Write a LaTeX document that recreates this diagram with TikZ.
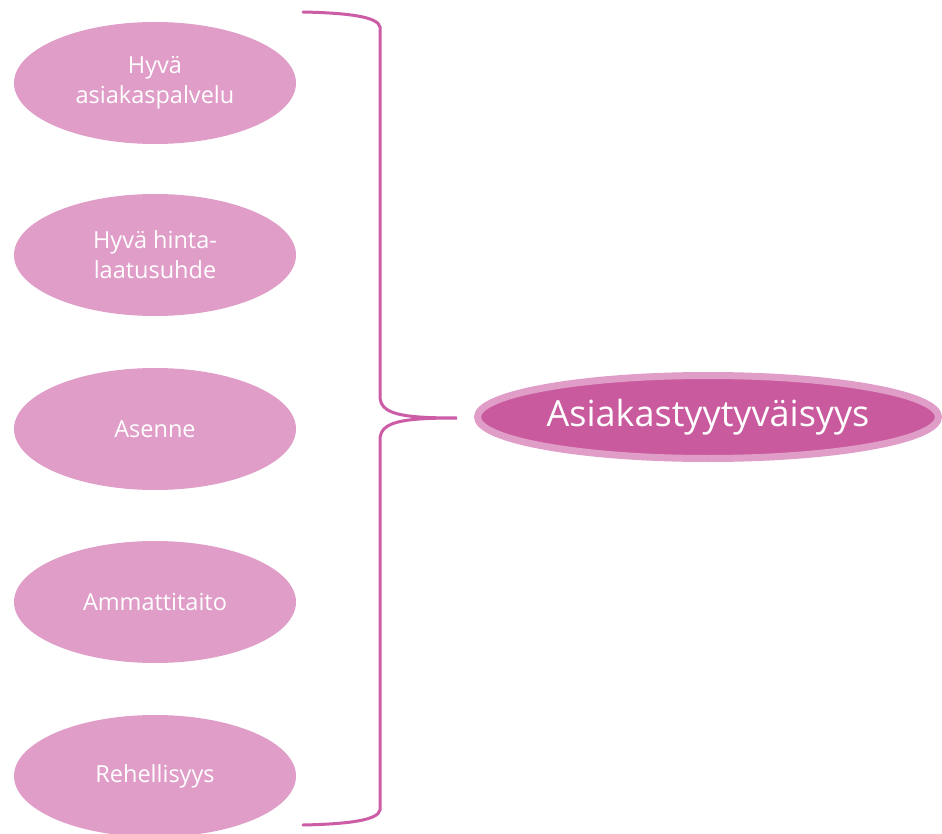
\documentclass[tikz,border=0pt]{standalone}
\usepackage{fontspec}
\setmainfont{Open Sans}
\usepackage{xcolor}
\usetikzlibrary{shapes.geometric, positioning}
\definecolor{lightpink}{HTML}{DF9DC8}
\definecolor{deeppink}{HTML}{C95A9E}
\definecolor{bracepink}{HTML}{CD5CA6}

\begin{document}
\begin{tikzpicture}[
  x=1pt, y=-1pt,
  every node/.style={font=\fontsize{23.5}{30}\selectfont, text=white},
  factor/.style={ellipse, fill=lightpink, minimum width=282pt, minimum height=122pt,
                 align=center, inner sep=0pt},
  goal/.style={ellipse, fill=deeppink, draw=lightpink, line width=7pt,
               minimum width=461pt, minimum height=83pt, inner sep=0pt,
               font=\fontsize{36}{40}\selectfont},
  brace/.style={draw=bracepink, line width=3pt, line cap=round}
]
  \useasboundingbox (0,0) rectangle (942,834);

  % ---- five factors in a column ----
  \node[factor] (service) at (155,83)  {Hyvä\\asiakaspalvelu};
  \node[factor] (price)   at (155,255) {Hyvä hinta-\\laatusuhde};
  \node[factor] (attit)   at (155,429) {Asenne};
  \node[factor] (skill)   at (155,602) {Ammattitaito};
  \node[factor] (honest)  at (155,776) {Rehellisyys};

  % ---- result ----
  \node[goal] (satisf) at (708,417) {Asiakastyytyväisyys};

  % ---- brace gathering the factors ----
  \coordinate (btop) at (303,12);
  \coordinate (btip) at (457,418);
  \coordinate (bbot) at (303,825);
  \path[brace] (btop) .. controls (350,13) and (378,17) .. (380,27)
    -- (380,396) .. controls (380,414) and (400,418) .. (btip)
    .. controls (400,418) and (380,422) .. (380,440)
    -- (380,810) .. controls (378,820) and (350,824) .. (bbot);
\end{tikzpicture}
\end{document}
